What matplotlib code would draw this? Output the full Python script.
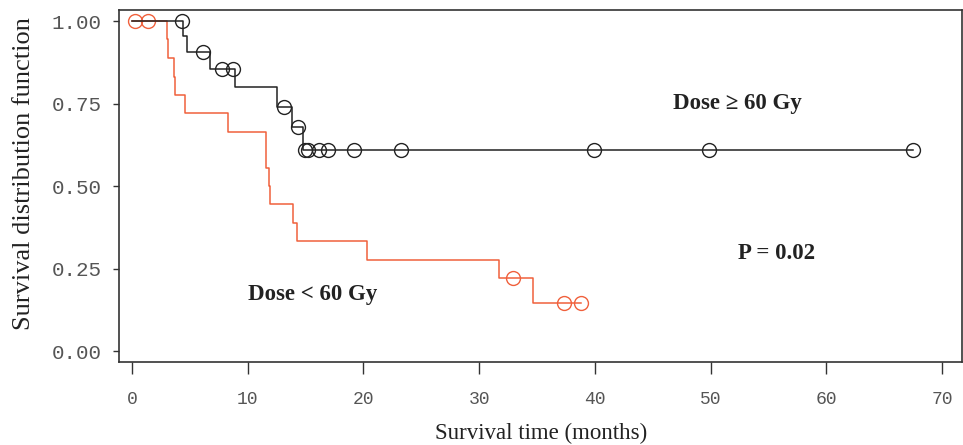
import matplotlib
matplotlib.use("Agg")
import matplotlib.pyplot as plt

# Dose >= 60 Gy (black curve): step times and survival levels
hi_times = [0, 4.43, 4.72, 6.74, 8.93, 12.56, 13.8, 14.8, 67.5]
hi_surv = [1.0, 0.955, 0.905, 0.855, 0.80, 0.74, 0.68, 0.61, 0.61]
# censored observations (circles)
hi_cens_t = [4.3, 6.1, 7.75, 8.7, 13.16, 14.37, 14.95, 15.2, 16.19, 16.97,
             19.19, 23.27, 39.9, 49.9, 67.5]
hi_cens_s = [1.0, 0.905, 0.855, 0.855, 0.74, 0.68, 0.61, 0.61, 0.61, 0.61,
             0.61, 0.61, 0.61, 0.61, 0.61]

# Dose < 60 Gy (red curve)
lo_times = [0, 3.0, 3.08, 3.62, 3.72, 4.58, 8.27, 11.58, 11.62, 11.85, 11.9,
            13.89, 14.23, 20.28, 31.75, 34.63, 38.8]
lo_surv = [1.0, 0.944, 0.887, 0.831, 0.776, 0.72, 0.665, 0.61, 0.555, 0.50,
           0.444, 0.388, 0.332, 0.276, 0.221, 0.145, 0.145]
lo_cens_t = [0.26, 1.41, 32.96, 37.34, 38.8]
lo_cens_s = [1.0, 1.0, 0.221, 0.145, 0.145]

x_ticks = [0, 10, 20, 30, 40, 50, 60, 70]
y_ticks = [0.0, 0.25, 0.5, 0.75, 1.0]
y_ticklabels = ['0.00', '0.25', '0.50', '0.75', '1.00']

red = '#f0603c'
black = '#222222'

fig = plt.figure(figsize=(9.63, 4.45), dpi=100)
ax = fig.add_axes([0.1236, 0.1865, 0.8757, 0.791])

ax.step(lo_times, lo_surv, where='post', color=red, lw=1.1, zorder=2)
ax.plot(lo_cens_t, lo_cens_s, 'o', ms=10, mfc='none', mec=red, mew=1.0, zorder=3)
ax.step(hi_times, hi_surv, where='post', color=black, lw=1.1, zorder=4)
ax.plot(hi_cens_t, hi_cens_s, 'o', ms=10, mfc='none', mec=black, mew=1.0, zorder=5)

ax.set_xlim(-1.124, 71.76)
ax.set_ylim(-0.0333, 1.0333)

mono = dict(family='Liberation Mono', color='#555555')
ax.set_xticks(x_ticks)
ax.set_xticklabels([str(v) for v in x_ticks], fontsize=13, **mono)
ax.set_yticks(y_ticks)
ax.set_yticklabels(y_ticklabels, fontsize=15, **mono)
ax.tick_params(axis='x', length=8.6, width=1.0, color='#333333', pad=12)
ax.tick_params(axis='y', length=4.5, width=1.0, color='#333333', pad=8)

for sp in ax.spines.values():
    sp.set_color('#333333')
    sp.set_linewidth(1.2)

serif = 'Liberation Serif'
ax.set_xlabel('Survival time (months)', family=serif, fontsize=16.5,
              color='#222222')
ax.xaxis.set_label_coords(0.5, -0.172)
ax.set_ylabel('Survival distribution function', family=serif, fontsize=19,
              color='#222222')
ax.yaxis.set_label_coords(-0.1, 0.534)

bold = dict(family=serif, fontsize=16.5, fontweight='bold', color='#222222',
            ha='center', va='center')
ax.text(52.3, 0.75, 'Dose \u2265 60 Gy', **bold)
ax.text(55.7, 0.295, 'P = 0.02', **bold)
ax.text(15.6, 0.17, 'Dose < 60 Gy', **bold)

fig.savefig('out.png', dpi=100)
